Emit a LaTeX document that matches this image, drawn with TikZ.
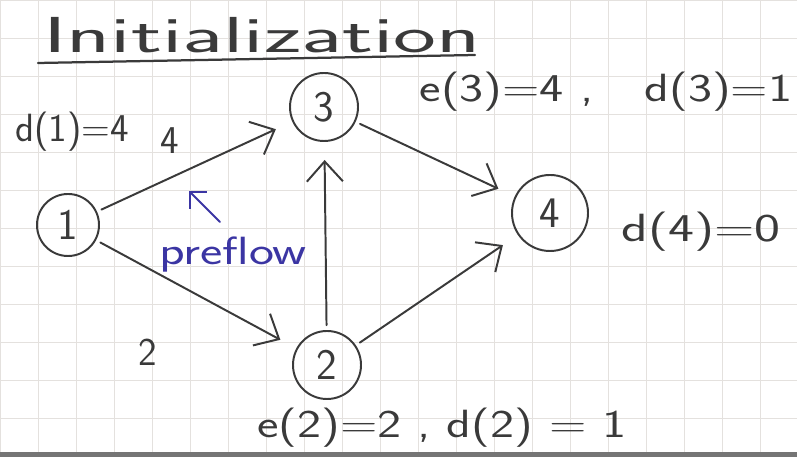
\documentclass[tikz,border=0pt]{standalone}
\usepackage{fontspec}
\usetikzlibrary{arrows.meta}
\definecolor{ink}{HTML}{3A3A3A}
\definecolor{blueink}{HTML}{3B35A3}
\definecolor{paperline}{HTML}{E4E1DE}
\newcommand{\hand}[1]{\sffamily\fontsize{#1}{#1}\selectfont}
\newcommand{\wide}[2]{\scalebox{#1}[1]{#2}}
\tikzset{
  vertex/.style={circle, draw=ink, line width=1.4pt, minimum size=1.7cm, inner sep=0pt, text=ink, font=\hand{31}},
  lbl/.style={text=ink, inner sep=0pt, font=\hand{28}},
  flow/.style={draw=ink, line width=1.4pt, ->, shorten >=0.45cm, shorten <=0.12cm},
  gridline/.style={draw=paperline, line width=0.5pt}
}
\begin{document}
\begin{tikzpicture}[x=0.025cm,y=-0.025cm,>={Straight Barb[length=5mm,width=9mm]},line cap=round,line join=round]
  \useasboundingbox (0,0) rectangle (797,457);
  % squared paper
  \foreach \i in {0,...,20} \draw[gridline] (\i*38,0) -- (\i*38,457);
  \foreach \j in {0,...,12} \draw[gridline] (0,\j*38) -- (797,\j*38);
  \fill[ink!70] (0,452) rectangle (797,457);
  % title
  \node[text=ink, inner sep=0pt, font=\hand{36}] (ttl) at (262,35) {\wide{1.8}{Initialization}};
  \draw[ink, line width=1.6pt] (38,63) -- (475,55);
  % vertices
  \node[vertex, minimum size=1.55cm] (n1) at (68,225) {1};
  \node[vertex] (n3) at (324,107) {3};
  \node[vertex, minimum size=1.9cm] (n4) at (550,213) {4};
  \node[vertex] (n2) at (327,365) {2};
  % arcs
  \draw[flow] (n1) -- (n3);
  \draw[flow] (n1) -- (n2);
  \draw[flow] (n2) -- (n3);
  \draw[flow] (n3) -- (n4);
  \draw[flow] (n2) -- (n4);
  % labels
  \node[lbl] (d1) at (72,132) {d(1)=4};
  \node[lbl] (c13) at (170,141) {4};
  \node[lbl] (c12) at (148,352) {2};
  \node[lbl] (s3) at (606,92) {\wide{1.3}{e(3)=4 ,\quad d(3)=1}};
  \node[lbl] (d4) at (701,232) {\wide{1.4}{d(4)=0}};
  \node[lbl] (s2) at (442,428) {\wide{1.3}{e(2)=2 , d(2) = 1}};
  % preflow note
  \node[text=blueink, inner sep=0pt, font=\hand{28}] (pf) at (233,255) {\wide{1.35}{preflow}};
  \coordinate (pfbase) at (220,222);
  \coordinate (pftip) at (189,191);
  \draw[blueink, line width=1.4pt, -{Straight Barb[length=3mm,width=6mm]}] (pfbase) -- (pftip);
\end{tikzpicture}
\end{document}
